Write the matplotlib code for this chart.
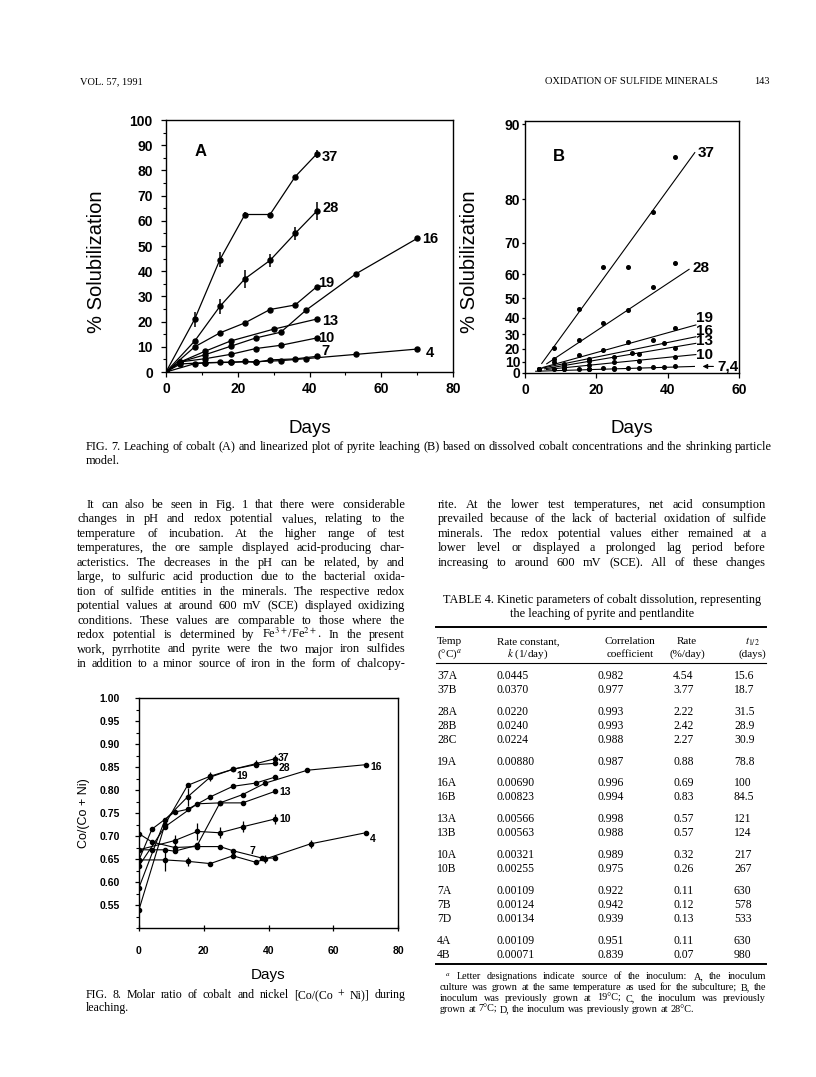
import matplotlib
matplotlib.use('Agg')
import matplotlib.pyplot as plt
from matplotlib.lines import Line2D
from matplotlib.ticker import MultipleLocator
import numpy as np

plt.rcParams['font.family'] = ['Liberation Sans', 'DejaVu Sans']
plt.rcParams['mathtext.fontset'] = 'stix'
SERIF = ['Liberation Serif', 'DejaVu Serif']

W, H = 816, 1077

# ---- Fig. 7A : % solubilization vs days ----
a_names = ['37', '28', '19', '16', '13', '10', '7', '4']
a37_x = [0, 8, 15, 22, 29, 36, 42]
a37_y = [0, 21, 44.5, 62.5, 62.5, 77.5, 86.5]
a37_e = [0, 3, 3, 1, 0, 0, 1.5]
a28_x = [0, 8, 15, 22, 29, 36, 42]
a28_y = [0, 12.3, 26, 37, 44.3, 55, 63.8]
a28_e = [0, 0, 3, 3.5, 2.5, 2.5, 3.5]
a19_x = [0, 8, 15, 22, 29, 36, 42]
a19_y = [0, 10, 15.5, 19.5, 24.8, 26.6, 33.8]
a16_x = [0, 4, 11, 18, 25, 32, 39, 53, 70]
a16_y = [0, 4, 6.9, 10.2, 13.5, 15.8, 24.5, 39, 53]
a13_x = [0, 4, 11, 18, 30, 42]
a13_y = [0, 4, 8.3, 12.3, 17, 21]
a10_x = [0, 4, 11, 18, 25, 32, 42]
a10_y = [0, 4, 5.3, 7.0, 9.3, 10.6, 13.5]
a7_x = [0, 8, 11, 15, 18, 22, 25, 29, 36, 42]
a7_y = [0, 3.3, 3.6, 3.8, 3.8, 4.2, 3.8, 4.8, 5.2, 6.2]
a4_x = [0, 4, 11, 18, 25, 32, 39, 53, 70]
a4_y = [0, 3.2, 3.7, 3.9, 4.1, 4.5, 5.3, 7.0, 9.1]
a_lab_x = [43.5, 43.5, 42.5, 71.4, 43.5, 42.3, 43.3, 72.3]
a_lab_y = [85.4, 64.9, 35.4, 52.6, 20.3, 13.3, 8.2, 7.5]
a_xticks = [0, 20, 40, 60, 80]
a_yticks = [0, 10, 20, 30, 40, 50, 60, 70, 80, 90, 100]

# ---- Fig. 7B : linearized plot (first-order scale) ----
b_names = ['37', '28', '19', '16', '13', '10', '7,4']
b_start_day = [4.7, 6.1, 5.0, 4.5, 5.5, 6.0, 3.0]
b_start_pct = [8.5, 8.2, 5.0, 4.2, 3.8, 3.2, 1.6]
b_end_day = [47.6, 46.0, 47.9, 47.9, 47.9, 47.9, 47.5]
b_end_pct = [87.0, 61.7, 35.9, 28.5, 24.0, 15.7, 5.9]
b_lab_x = [48.5, 47.0, 47.9, 47.9, 47.9, 47.9, 53.8]
b_lab_y = [87.0, 62.3, 40.1, 32.3, 25.4, 15.7, 6.2]
b_xticks = [0, 20, 40, 60]
b_yticks = [0, 10, 20, 30, 40, 50, 60, 70, 80, 90]

# ---- Fig. 8 : Co/(Co+Ni) vs days ----
f8_names = ['37', '28', '19', '16', '13', '10', '7', '4']
f37_x = [0, 8, 15, 22, 29, 36, 42]
f37_y = [0.54, 0.725, 0.81, 0.83, 0.845, 0.857, 0.868]
f37_e = [0, 0, 0, 0.01, 0, 0.008, 0.008]
f28_x = [0, 8, 15, 22, 29, 36, 42]
f28_y = [0.588, 0.735, 0.785, 0.828, 0.845, 0.855, 0.858]
f28_e = [0, 0, 0.02, 0, 0, 0, 0]
f19_x = [0, 4, 11, 15, 22, 29, 36, 42]
f19_y = [0.648, 0.715, 0.752, 0.758, 0.785, 0.808, 0.815, 0.828]
f16_x = [0, 8, 18, 25, 32, 39, 52, 70]
f16_y = [0.635, 0.72, 0.77, 0.772, 0.79, 0.815, 0.843, 0.855]
f13_x = [0, 4, 8, 11, 18, 25, 32, 42]
f13_y = [0.67, 0.67, 0.67, 0.667, 0.68, 0.772, 0.772, 0.797]
f10_x = [0, 11, 18, 25, 32, 42]
f10_y = [0.67, 0.69, 0.71, 0.707, 0.72, 0.737]
f10_e = [0, 0.012, 0.018, 0.012, 0.012, 0.01]
f7_x = [0, 4, 11, 18, 25, 29, 38, 42]
f7_y = [0.705, 0.687, 0.675, 0.677, 0.677, 0.668, 0.652, 0.652]
f4_x = [0, 8, 15, 22, 29, 36, 39, 53, 70]
f4_y = [0.648, 0.648, 0.645, 0.64, 0.657, 0.643, 0.65, 0.683, 0.707]
f4_e = [0, 0.025, 0.01, 0, 0, 0, 0.008, 0.008, 0]
f8_lab_x = [43.0, 43.0, 30.0, 71.4, 43.5, 43.3, 34.0, 71.2]
f8_lab_y = [0.869, 0.847, 0.831, 0.849, 0.796, 0.736, 0.667, 0.694]
f8_xticks = [0, 20, 40, 60, 80]
f8_yticks = [0.55, 0.60, 0.65, 0.70, 0.75, 0.80, 0.85, 0.90, 0.95, 1.00]

# ---- Table 4 ----
t_temp = ['37A', '37B', '28A', '28B', '28C', '19A', '16A', '16B', '13A', '13B',
          '10A', '10B', '7A', '7B', '7D', '4A', '4B']
t_k = ['0.0445', '0.0370', '0.0220', '0.0240', '0.0224', '0.00880', '0.00690',
       '0.00823', '0.00566', '0.00563', '0.00321', '0.00255', '0.00109',
       '0.00124', '0.00134', '0.00109', '0.00071']
t_r = ['0.982', '0.977', '0.993', '0.993', '0.988', '0.987', '0.996', '0.994',
       '0.998', '0.988', '0.989', '0.975', '0.922', '0.942', '0.939', '0.951', '0.839']
t_rate = ['4.54', '3.77', '2.22', '2.42', '2.27', '0.88', '0.69', '0.83', '0.57',
          '0.57', '0.32', '0.26', '0.11', '0.12', '0.13', '0.11', '0.07']
t_half = ['15.6', '18.7', '31.5', '28.9', '30.9', '78.8', '100', '84.5', '121',
          '124', '217', '267', '630', '578', '533', '630', '980']

body_left = [
    "It can also be seen in Fig. 1 that there were considerable",
    "changes in pH and redox potential values, relating to the",
    "temperature of incubation. At the higher range of test",
    "temperatures, the ore sample displayed acid-producing char-",
    "acteristics. The decreases in the pH can be related, by and",
    "large, to sulfuric acid production due to the bacterial oxida-",
    "tion of sulfide entities in the minerals. The respective redox",
    "potential values at around 600 mV (SCE) displayed oxidizing",
    "conditions. These values are comparable to those where the",
    "redox potential is determined by Fe$^{3+}$/Fe$^{2+}$. In the present",
    "work, pyrrhotite and pyrite were the two major iron sulfides",
    "in addition to a minor source of iron in the form of chalcopy-",
]
body_right = [
    "rite. At the lower test temperatures, net acid consumption",
    "prevailed because of the lack of bacterial oxidation of sulfide",
    "minerals. The redox potential values either remained at a",
    "lower level or displayed a prolonged lag period before",
    "increasing to around 600 mV (SCE). All of these changes",
]
cap7 = ["FIG. 7.  Leaching of cobalt (A) and linearized plot of pyrite leaching (B) based on "
        "dissolved cobalt concentrations and the shrinking particle", "model."]
cap8 = ["FIG. 8.  Molar ratio of cobalt and nickel [Co/(Co + Ni)] during", "leaching."]
foot = ["$^a$ Letter designations indicate source of the inoculum: A, the inoculum",
        "culture was grown at the same temperature as used for the subculture; B, the",
        "inoculum was previously grown at 19\u00b0C; C, the inoculum was previously",
        "grown at 7\u00b0C; D, the inoculum was previously grown at 28\u00b0C."]

fig = plt.figure(figsize=(W / 100, H / 100), dpi=100)


def px_box(l, t, r, b):
    return [l / W, 1 - b / H, (r - l) / W, (b - t) / H]


def fy(y):
    return 1 - y / H


def frame(ax, size, ticklen=3.5, pad=3.5):
    for s in ax.spines.values():
        s.set_linewidth(1.0)
    ax.tick_params(direction='out', length=ticklen, width=0.9, labelsize=size, pad=pad)
    ax.tick_params(which='minor', direction='out', length=2, width=0.8)


# ---------- panel A ----------
ax_a = fig.add_axes(px_box(166, 120, 453, 372))
a_xs = [a37_x, a28_x, a19_x, a16_x, a13_x, a10_x, a7_x, a4_x]
a_ys = [a37_y, a28_y, a19_y, a16_y, a13_y, a10_y, a7_y, a4_y]
a_es = [a37_e, a28_e, None, None, None, None, None, None]
for x, y, e in zip(a_xs, a_ys, a_es):
    ax_a.errorbar(x, y, yerr=e, color='black', lw=0.9, marker='o', ms=3.6,
                  elinewidth=1.1, capsize=0)
for name, lx, ly in zip(a_names, a_lab_x, a_lab_y):
    ax_a.text(lx, ly, name, fontsize=10.5, fontweight='bold', va='center', ha='left')
ax_a.text(8, 87.5, 'A', fontsize=12, fontweight='bold', va='center')
ax_a.set_xlim(0, 80)
ax_a.set_ylim(0, 100)
ax_a.set_xticks(a_xticks, labels=[str(v) for v in a_xticks], fontweight='bold')
ax_a.set_yticks(a_yticks, labels=[str(v) for v in a_yticks], fontweight='bold')
ax_a.yaxis.set_minor_locator(MultipleLocator(5))
ax_a.xaxis.set_minor_locator(MultipleLocator(10))
frame(ax_a, 10)
ax_a.tick_params(axis='y', pad=6)
fig.text(97 / W, fy(262), '% Solubilization', fontsize=14.5, rotation=90,
         ha='center', va='center')
fig.text(310 / W, fy(428), 'Days', fontsize=13.5, ha='center', va='center')

# ---------- panel B ----------
def fwd(y):
    y = np.clip(np.asarray(y, dtype=float), None, 99.9)
    return -np.log(1 - y / 100)


def inv(v):
    return 100 * (1 - np.exp(-np.asarray(v, dtype=float)))


ax_b = fig.add_axes(px_box(525, 121, 739, 373))
ax_b.set_yscale('function', functions=(fwd, inv))
for x, y in zip(a_xs, a_ys):
    x = np.asarray(x)
    y = np.asarray(y)
    keep = (x > 0) & (x < 45)
    ax_b.plot(x[keep], y[keep], 'o', color='black', ms=2.6)
for x0, y0, x1, y1 in zip(b_start_day, b_start_pct, b_end_day, b_end_pct):
    ax_b.plot([x0, x1], [y0, y1], color='black', lw=0.8)
for name, lx, ly in zip(b_names, b_lab_x, b_lab_y):
    ax_b.text(lx, ly, name, fontsize=11, fontweight='bold', va='center', ha='left')
ax_b.annotate('', xy=(49.0, 5.9), xytext=(53.6, 5.9),
              arrowprops=dict(arrowstyle='-|>', color='black', lw=0.8,
                              mutation_scale=7))
ax_b.text(7.9, 86.5, 'B', fontsize=12, fontweight='bold', va='center')
ax_b.set_xlim(0, 60)
ax_b.set_ylim(0, 90.3)
ax_b.set_xticks(b_xticks, labels=[str(v) for v in b_xticks], fontweight='bold')
ax_b.set_yticks(b_yticks, labels=[str(v) for v in b_yticks], fontweight='bold')
ax_b.yaxis.set_minor_locator(plt.NullLocator())
frame(ax_b, 10)
ax_b.tick_params(axis='y', length=2, pad=1.5)
fig.text(470 / W, fy(262), '% Solubilization', fontsize=14.5, rotation=90,
         ha='center', va='center')
fig.text(632 / W, fy(428), 'Days', fontsize=13.5, ha='center', va='center')

# ---------- Fig. 8 ----------
ax8 = fig.add_axes(px_box(139, 698, 398, 928))
f_xs = [f37_x, f28_x, f19_x, f16_x, f13_x, f10_x, f7_x, f4_x]
f_ys = [f37_y, f28_y, f19_y, f16_y, f13_y, f10_y, f7_y, f4_y]
f_es = [f37_e, f28_e, None, None, None, f10_e, None, f4_e]
for x, y, e in zip(f_xs, f_ys, f_es):
    ax8.errorbar(x, y, yerr=e, color='black', lw=0.8, marker='o', ms=3.0,
                 elinewidth=0.9, capsize=0)
for name, lx, ly in zip(f8_names, f8_lab_x, f8_lab_y):
    ax8.text(lx, ly, name, fontsize=7.5, fontweight='bold', va='center', ha='left')
ax8.set_xlim(0, 80)
ax8.set_ylim(0.50, 1.00)
ax8.set_xticks(f8_xticks, labels=[str(v) for v in f8_xticks], fontweight='bold')
ax8.set_yticks(f8_yticks, labels=['%.2f' % v for v in f8_yticks], fontweight='bold')
ax8.yaxis.set_minor_locator(MultipleLocator(0.025))
frame(ax8, 7.5, ticklen=3)
ax8.tick_params(axis='x', direction='inout', length=4, pad=11)
ax8.tick_params(axis='y', pad=11)
fig.text(84 / W, fy(813), 'Co/(Co + Ni)', fontsize=9, rotation=90,
         ha='center', va='center')
fig.text(268 / W, fy(975), 'Days', fontsize=11, ha='center', va='center')

# ---------- page text ----------
renderer = fig.canvas.get_renderer()


def justify(lines, x0, x1, y0, step, size, nfull, indent=0.0):
    for i, line in enumerate(lines):
        words = [w for w in line.split(' ') if w]
        arts = [fig.text(0, fy(y0 + i * step), w, fontsize=size, family=SERIF,
                         va='baseline') for w in words]
        ws = [a.get_window_extent(renderer).width for a in arts]
        left = x0 + (indent if i == 0 else 0)
        if i >= nfull or len(words) == 1:
            gap = size * 1.389 * 0.25
        else:
            gap = (x1 - left - sum(ws)) / (len(words) - 1)
        x = left
        for a, w in zip(arts, ws):
            a.set_x(x / W)
            x += w + gap


fig.text(80 / W, fy(84), 'VOL. 57, 1991', fontsize=7.5, family=SERIF, va='baseline')
fig.text(718 / W, fy(84), 'OXIDATION OF SULFIDE MINERALS', fontsize=7.5,
         family=SERIF, va='baseline', ha='right')
fig.text(770 / W, fy(84), '143', fontsize=7.5, family=SERIF, va='baseline', ha='right')

justify(cap7, 86, 772, 450, 14, 8.8, nfull=1)
justify(body_left, 77, 405, 508, 14.45, 8.9, nfull=len(body_left), indent=10)
justify(body_right, 438, 766, 508, 14.45, 8.9, nfull=len(body_right))
justify(cap8, 86, 405, 998, 13, 8.6, nfull=1, indent=0)

# table
fig.text(602 / W, fy(603), 'TABLE 4. Kinetic parameters of cobalt dissolution, representing',
         fontsize=8.8, family=SERIF, ha='center', va='baseline')
fig.text(602 / W, fy(616.5), 'the leaching of pyrite and pentlandite',
         fontsize=8.8, family=SERIF, ha='center', va='baseline')
for yy, lw in [(627, 1.4), (663, 0.8), (964, 1.4)]:
    fig.add_artist(Line2D([436 / W, 766 / W], [fy(yy), fy(yy)], color='black', lw=lw))

hdr_top = ['Temp', 'Rate constant,', 'Correlation', 'Rate', '$t_{1/2}$']
hdr_bot = ['(\u00b0C)$^a$', '$k$ (1/day)', 'coefficient', '(%/day)', '(days)']
hdr_x = [437, 528, 630, 687, 752]
hdr_ha = ['left', 'center', 'center', 'center', 'center']
for txt_t, txt_b, hx, ha in zip(hdr_top, hdr_bot, hdr_x, hdr_ha):
    fig.text(hx / W, fy(644), txt_t, fontsize=8.0, family=SERIF, ha=ha, va='baseline')
    fig.text(hx / W, fy(657), txt_b, fontsize=8.0, family=SERIF, ha=ha, va='baseline')

col_x = [437, 497, 597, 673, 734]
row_y = []
y = 679.0
prev = None
for name in t_temp:
    grp = name[:-1]
    if prev is not None:
        y += 14.0 if grp == prev else 21.8
    row_y.append(y)
    prev = grp
for i, ry in enumerate(row_y):
    for cx, col in zip(col_x, [t_temp, t_k, t_r, t_rate, t_half]):
        fig.text(cx / W, fy(ry), col[i], fontsize=8.4, family=SERIF, va='baseline')

justify(foot, 440, 766, 979, 11, 7.3, nfull=3, indent=5)

fig.savefig('out.png', dpi=100)
